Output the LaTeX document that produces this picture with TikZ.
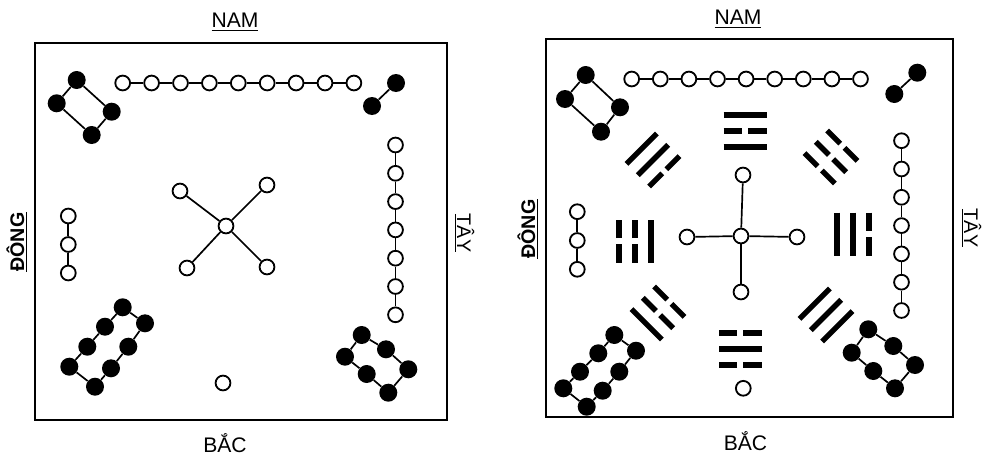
\documentclass[tikz,border=0pt]{standalone}
\usepackage{fontspec}
\setmainfont{Liberation Sans}
\usetikzlibrary{positioning}
\tikzset{
  px/.style={x=0.25mm, y=-0.25mm},
  odot/.style={circle, draw=black, fill=white, line width=1.3pt,
    minimum size=3.7mm, inner sep=0pt},
  fdot/.style={circle, fill=black, minimum size=4.5mm, inner sep=0pt},
  link/.style={draw=black, line width=1.2pt},
  frame/.style={draw=black, line width=1.2pt},
  bar/.style={line width=3.8pt, line cap=butt},
  dirlabel/.style={font=\fontsize{15}{18}\selectfont, anchor=base, inner sep=0pt},
  sidelabel/.style={font=\fontsize{14}{17}\selectfont, anchor=base, inner sep=0pt}
}
% one trigram: centre, turn, lines from the inner (bottom) one outwards
\newcommand{\gua}[3]{%
  \begin{scope}[shift={#1}, rotate=#2]
    \foreach \b [count=\k] in {#3} {
      \pgfmathsetmacro\yy{32-16*\k}
      \ifnum\b=1
        \draw[bar] (-21.5,\yy) -- (21.5,\yy);
      \else
        \draw[bar] (-21.5,\yy) -- (-3,\yy);
        \draw[bar] (3,\yy) -- (21.5,\yy);
      \fi
    }
  \end{scope}}

\begin{document}
\begin{tikzpicture}[px]
  \useasboundingbox (0,0) rectangle (984,458);

  % ======================= LEFT: Lo Shu ====================================
  \draw[frame] (35,43) rectangle (447,420);
  \node[dirlabel] (lnam) at (235,28) {\underline{NAM}};
  \node[dirlabel] (lbac) at (225,452) {BẮC};
  \node[sidelabel, rotate=90] (ldong) at (24,242) {\underline{\textbf{ĐÔNG}}};
  \node[sidelabel, rotate=-90] (ltay) at (457,233) {\underline{TÂY}};

  % ---- 9 at the top, 1 at the bottom --------------------------------------
  \foreach \i in {0,...,8}
    \node[odot] (l9-\i) at ({122.7+28.9*\i},83) {};
  \foreach \i [count=\j from 1] in {0,...,7}
    \draw[link] (l9-\i) -- (l9-\j);
  \node[odot] (l1-0) at (223,383) {};

  % ---- 3 on the left, 7 on the right --------------------------------------
  \foreach \i in {0,1,2}
    \node[odot] (l3-\i) at (68.3,{216+28.5*\i}) {};
  \foreach \i [count=\j from 1] in {0,1}
    \draw[link] (l3-\i) -- (l3-\j);
  \foreach \i in {0,...,6}
    \node[odot] (l7-\i) at (395.5,{145+28.3*\i}) {};
  \foreach \i [count=\j from 1] in {0,...,5}
    \draw[link] (l7-\i) -- (l7-\j);

  % ---- 5 in the middle ----------------------------------------------------
  \node[odot] (l5-0) at (226,226) {};
  \node[odot] (l5-1) at (180,191) {};
  \node[odot] (l5-2) at (267,185) {};
  \node[odot] (l5-3) at (187,268) {};
  \node[odot] (l5-4) at (267,267) {};
  \foreach \i in {1,...,4}
    \draw[link] (l5-0) -- (l5-\i);

  % ---- corners: 4, 2, 8, 6 ------------------------------------------------
  \node[fdot] (l4-0) at (76.7,80) {};
  \node[fdot] (l4-1) at (56.7,103.3) {};
  \node[fdot] (l4-2) at (91.7,135) {};
  \node[fdot] (l4-3) at (111.7,111.7) {};
  \draw[link] (l4-0) -- (l4-1) -- (l4-2) -- (l4-3) -- (l4-0);

  \node[fdot] (l2-0) at (396,83) {};
  \node[fdot] (l2-1) at (372,106) {};
  \draw[link] (l2-0) -- (l2-1);

  \foreach \p [count=\i from 0] in {(122.7,307.3),(105,326.7),(87.3,346.7),(69.3,366.7)}
    \node[fdot] (l8a-\i) at \p {};
  \foreach \p [count=\i from 0] in {(145,323.3),(128.3,346.7),(111,368.3),(95,386.7)}
    \node[fdot] (l8b-\i) at \p {};
  \foreach \i [count=\j from 1] in {0,1,2} {
    \draw[link] (l8a-\i) -- (l8a-\j);
    \draw[link] (l8b-\i) -- (l8b-\j);
  }
  \draw[link] (l8a-0) -- (l8b-0);
  \draw[link] (l8a-3) -- (l8b-3);

  \foreach \p [count=\i from 0] in {(361.7,335),(386,349.3),(408.3,369.3)}
    \node[fdot] (l6a-\i) at \p {};
  \foreach \p [count=\i from 0] in {(345,356.7),(366.7,374),(388.3,392.7)}
    \node[fdot] (l6b-\i) at \p {};
  \foreach \i [count=\j from 1] in {0,1} {
    \draw[link] (l6a-\i) -- (l6a-\j);
    \draw[link] (l6b-\i) -- (l6b-\j);
  }
  \draw[link] (l6a-0) -- (l6b-0);
  \draw[link] (l6a-2) -- (l6b-2);

  % ======================= RIGHT: Lo Shu with trigrams =====================
  \draw[frame] (546,39) rectangle (953,417);
  \node[dirlabel] (rnam) at (738,25) {\underline{NAM}};
  \node[dirlabel] (rbac) at (745.5,450) {BẮC};
  \node[sidelabel, rotate=90] (rdong) at (535,229) {\underline{\textbf{ĐÔNG}}};
  \node[sidelabel, rotate=-90] (rtay) at (964,228) {\underline{TÂY}};

  % ---- 9 at the top, 1 at the bottom --------------------------------------
  \foreach \i in {0,...,8}
    \node[odot] (r9-\i) at ({631.7+28.6*\i},79) {};
  \foreach \i [count=\j from 1] in {0,...,7}
    \draw[link] (r9-\i) -- (r9-\j);
  \node[odot] (r1-0) at (743.3,388.3) {};

  % ---- 3 on the left, 7 on the right --------------------------------------
  \foreach \i in {0,1,2}
    \node[odot] (r3-\i) at (577.3,{211.7+28.8*\i}) {};
  \foreach \i [count=\j from 1] in {0,1}
    \draw[link] (r3-\i) -- (r3-\j);
  \foreach \i in {0,...,6}
    \node[odot] (r7-\i) at (901.5,{140.7+28.3*\i}) {};
  \foreach \i [count=\j from 1] in {0,...,5}
    \draw[link] (r7-\i) -- (r7-\j);

  % ---- 5 in the middle ----------------------------------------------------
  \node[odot] (r5-0) at (741,236) {};
  \node[odot] (r5-1) at (743,175) {};
  \node[odot] (r5-2) at (797,237) {};
  \node[odot] (r5-3) at (741,292) {};
  \node[odot] (r5-4) at (687,237) {};
  \foreach \i in {1,...,4}
    \draw[link] (r5-0) -- (r5-\i);

  % ---- corners: 4, 2, 8, 6 ------------------------------------------------
  \node[fdot] (r4-0) at (585.7,75) {};
  \node[fdot] (r4-1) at (565,99) {};
  \node[fdot] (r4-2) at (601,131.7) {};
  \node[fdot] (r4-3) at (620,107.3) {};
  \draw[link] (r4-0) -- (r4-1) -- (r4-2) -- (r4-3) -- (r4-0);

  \node[fdot] (r2-0) at (917.3,72.7) {};
  \node[fdot] (r2-1) at (894.3,94) {};
  \draw[link] (r2-0) -- (r2-1);

  \foreach \p [count=\i from 0] in {(614.3,335),(598.3,353.3),(580,371.7),(563.3,388.3)}
    \node[fdot] (r8a-\i) at \p {};
  \foreach \p [count=\i from 0] in {(636,350.7),(619.3,371.7),(602.7,390.7),(586.7,406.7)}
    \node[fdot] (r8b-\i) at \p {};
  \foreach \i [count=\j from 1] in {0,1,2} {
    \draw[link] (r8a-\i) -- (r8a-\j);
    \draw[link] (r8b-\i) -- (r8b-\j);
  }
  \draw[link] (r8a-0) -- (r8b-0);
  \draw[link] (r8a-3) -- (r8b-3);

  \foreach \p [count=\i from 0] in {(868.3,329.3),(893.3,346),(915,365)}
    \node[fdot] (r6a-\i) at \p {};
  \foreach \p [count=\i from 0] in {(851.7,352.7),(873.3,371),(895,388.3)}
    \node[fdot] (r6b-\i) at \p {};
  \foreach \i [count=\j from 1] in {0,1} {
    \draw[link] (r6a-\i) -- (r6a-\j);
    \draw[link] (r6b-\i) -- (r6b-\j);
  }
  \draw[link] (r6a-0) -- (r6b-0);
  \draw[link] (r6a-2) -- (r6b-2);

  % ---- the eight trigrams, inner line first -------------------------------
  \gua{(745,131)}{0}{1,0,1}     % Ly, south
  \gua{(740,349)}{180}{0,1,0}   % Kham, north
  \gua{(635,241)}{90}{1,0,0}    % Chan, east
  \gua{(853,234)}{-90}{1,1,0}   % Doai, west
  \gua{(653,160)}{45}{0,1,1}    % Ton
  \gua{(831,157)}{-45}{0,0,0}   % Khon
  \gua{(658,313)}{135}{0,0,1}   % Can
  \gua{(826,315)}{-135}{1,1,1}  % Kien

\end{tikzpicture}
\end{document}
